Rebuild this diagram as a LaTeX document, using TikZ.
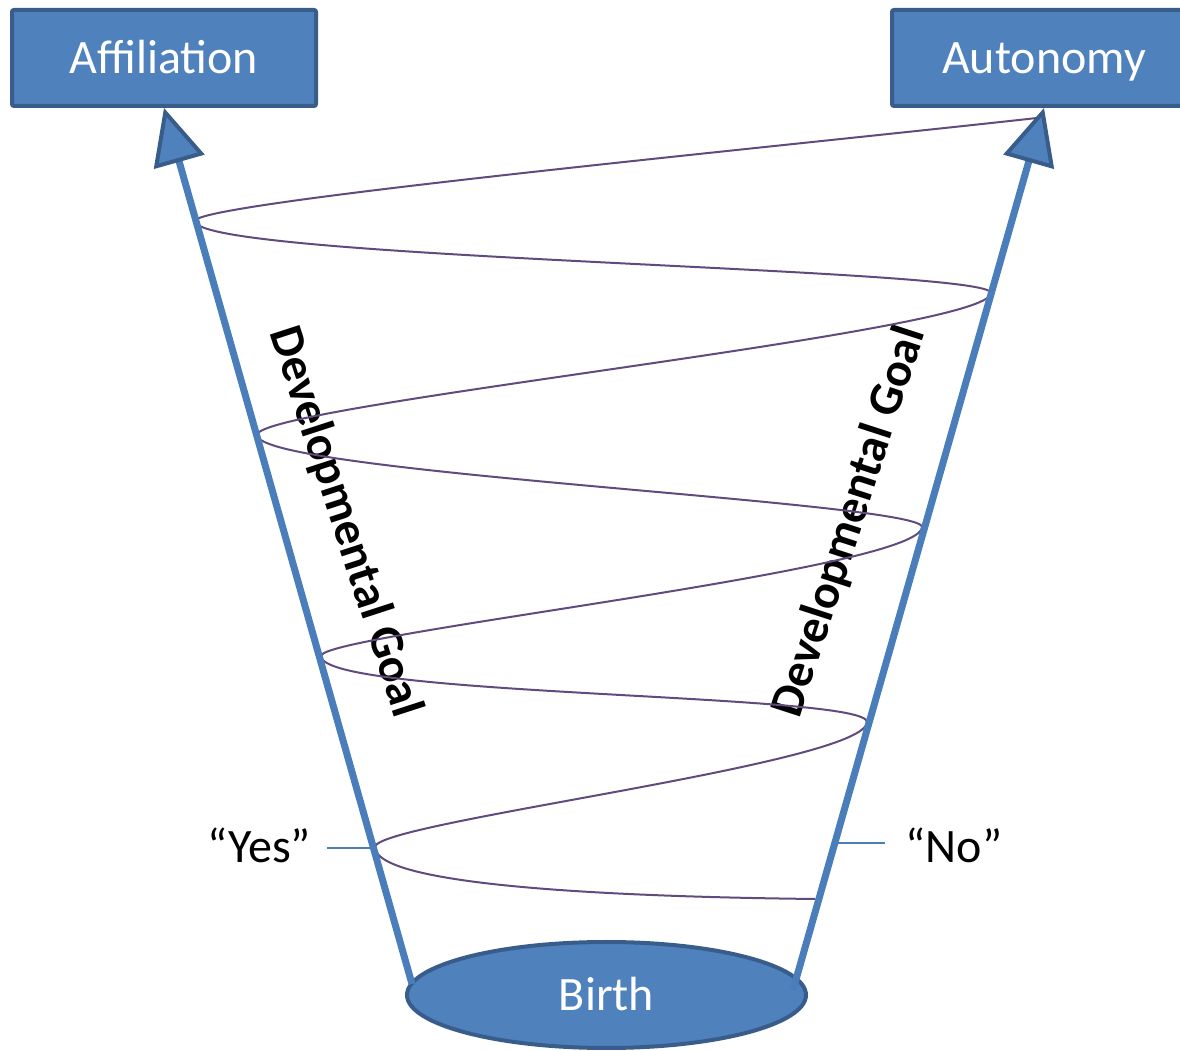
\documentclass[tikz,border=0pt]{standalone}
\usepackage{fontspec}
\setmainfont{Carlito}
\usetikzlibrary{arrows.meta,shapes.geometric,calc}
\definecolor{boxfill}{HTML}{4F81BD}
\definecolor{boxline}{HTML}{385D8A}
\definecolor{shaftblue}{HTML}{4A7EBB}
\definecolor{spiralpurple}{HTML}{5F4B7D}
\newcommand{\figfont}{\fontsize{24}{29}\selectfont}
\begin{document}
\begin{tikzpicture}[x=0.5pt,y=0.5pt,
  pole/.style={draw=boxline, fill=boxfill, line width=2pt, text=white,
    font=\figfont, text height=18pt, text depth=2pt},
  goalbox/.style={pole, rectangle, rounded corners=1pt,
    minimum width=152pt, minimum height=48pt},
  origin/.style={pole, ellipse, minimum width=199.5pt, minimum height=53pt},
  axisarrow/.style={draw=shaftblue, line width=3.5pt,
    -{Triangle[length=28pt,width=26pt,fill=boxfill,color=boxline,line width'=2pt]}},
  spiral/.style={draw=spiralpurple, line width=1pt},
  tick/.style={draw=shaftblue, line width=1pt},
  answer/.style={font=\figfont, anchor=base, inner sep=4pt},
  goaltext/.style={font=\figfont\bfseries, inner sep=0pt}
]
\useasboundingbox (0,0) rectangle (1180,1051);

% the two developmental poles and the starting point
\node[goalbox] (affil) at (164,993) {Affiliation};
\node[goalbox] (auton) at (1044,993) {Autonomy};
\node[origin] (birth) at (606.5,56) {Birth};

% labels running along the two axes
\node[goaltext, rotate=-72] (devL) at (345,529) {Developmental Goal};
\node[goaltext, rotate=72] (devR) at (850,529) {Developmental Goal};

% answers at the lower end of the axes
\node[answer] (yes) at (259,188) {“Yes”};
\node[answer] (no) at (954,188) {“No”};

% points of the spiral (its turns touch the axes)
\coordinate (P0) at (1037,933);
\coordinate (L1) at (195,830);
\coordinate (R1) at (991,758);
\coordinate (L2) at (257,616);
\coordinate (R2) at (922,524);
\coordinate (L3) at (321,395);
\coordinate (R3) at (867,329);
\coordinate (L4) at (375,204);
\coordinate (E)  at (815,152);

\draw[spiral] (P0)
  .. controls +(-280,-31) and +(0,18) .. (L1)
  .. controls +(0,-38) and +(0,25) .. (R1)
  .. controls +(0,-39) and +(0,30) .. (L2)
  .. controls +(0,-38) and +(0,25) .. (R2)
  .. controls +(0,-43) and +(0,22) .. (L3)
  .. controls +(0,-41) and +(0,29) .. (R3)
  .. controls +(0,-42) and +(0,25) .. (L4)
  .. controls +(0,-41) and +(-175,2) .. (E);

% the two axes rising from birth
\coordinate (baseL) at (412,67);
\coordinate (baseR) at (793,61);
\draw[axisarrow] (baseL) -- (affil.south);
\draw[axisarrow] (baseR) -- (auton.south);

% answer ticks
\coordinate (yesS) at (372,203);
\coordinate (noS) at (838,208);
\draw[tick] ($(yesS -| yes.east)+(8,0)$) -- (yesS);
\draw[tick] (noS) -- ($(noS -| no.west)+(-12,0)$);
\end{tikzpicture}
\end{document}
